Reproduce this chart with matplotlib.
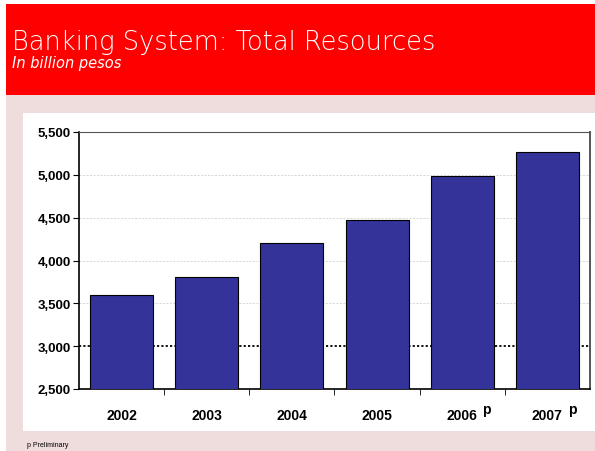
import matplotlib as mpl
mpl.use('Agg')
import matplotlib.pyplot as plt
from matplotlib.patches import Rectangle
import numpy as np

years = ['2002', '2003', '2004', '2005', '2006', '2007']
preliminary = [False, False, False, False, True, True]
resources = [3600, 3805, 4200, 4470, 4985, 5265]
yticks = [2500, 3000, 3500, 4000, 4500, 5000, 5500]

W, H = 595, 452
fig = plt.figure(figsize=(W / 100, H / 100), dpi=100)
fig.patch.set_facecolor('white')

def px_rect(x0, y0, x1, y1, color, z=0):
    # rectangle given in pixel coords from the top-left corner
    fig.patches.append(Rectangle((x0 / W, 1 - y1 / H), (x1 - x0) / W, (y1 - y0) / H,
                                 transform=fig.transFigure, facecolor=color,
                                 edgecolor='none', zorder=z))

px_rect(6, 96, W, H, '#EFDCDC')      # pink panel
px_rect(6, 5, W, 96, '#FF0000')      # red banner
px_rect(23, 114, W, 432, 'white')    # chart area

fig.text(12 / W, 1 - 50 / H, 'Banking System: Total Resources', color='white',
         fontsize=18.5, family='DejaVu Sans', fontweight='light', va='baseline')
fig.text(12 / W, 1 - 68 / H, 'In billion pesos', color='white', fontsize=10.5,
         family='DejaVu Sans', style='italic', va='baseline')
fig.text(27 / W, 1 - 447 / H, 'p Preliminary', color='black', fontsize=5,
         family='Liberation Sans', va='baseline')

ax = fig.add_axes([79 / W, 1 - 390 / H, (590 - 79) / W, (390 - 133) / H])
ax.set_zorder(2)
ax.set_facecolor('none')
x = np.arange(len(years))
ax.bar(x, resources, width=0.74, color='#333399', edgecolor='black',
       linewidth=0.8, zorder=3)

ax.set_ylim(2500, 5500)
ax.set_xlim(-0.5, len(years) - 0.5)
ax.set_yticks(yticks)
ax.set_yticklabels(['{:,}'.format(v) for v in yticks], fontsize=9.5,
                   fontweight='bold', family='Liberation Sans')
for v in yticks[2:-1]:
    if v != 3000:
        ax.axhline(v, color='#C8C8C8', linestyle=(0, (3, 2)), linewidth=0.5, zorder=1)
ax.axhline(3000, color='black', linestyle=(0, (1.2, 1.2)), linewidth=1.3, zorder=1)

ax.set_xticks(x)
ax.set_xticklabels(years, fontsize=10, fontweight='bold', family='Liberation Sans')
ax.tick_params(axis='x', length=0, pad=14)
ax.set_xticks(np.arange(len(years) - 1) + 0.5, minor=True)
ax.tick_params(axis='x', which='minor', length=4, direction='out', color='black')
ax.tick_params(axis='y', length=4, direction='out', pad=2)

for i, p in enumerate(preliminary):
    if p:
        ax.annotate('p', (x[i], 2500), xytext=(17.6, -17.3), textcoords='offset points',
                    fontsize=10, fontweight='bold', family='Liberation Sans',
                    ha='center', va='baseline')

ax.spines['left'].set_linewidth(1.2)
ax.spines['bottom'].set_linewidth(1.2)
ax.spines['top'].set_color('#555555')
ax.spines['right'].set_color('#555555')
ax.spines['right'].set_linewidth(1.4)

fig.savefig('out.png', dpi=100)
